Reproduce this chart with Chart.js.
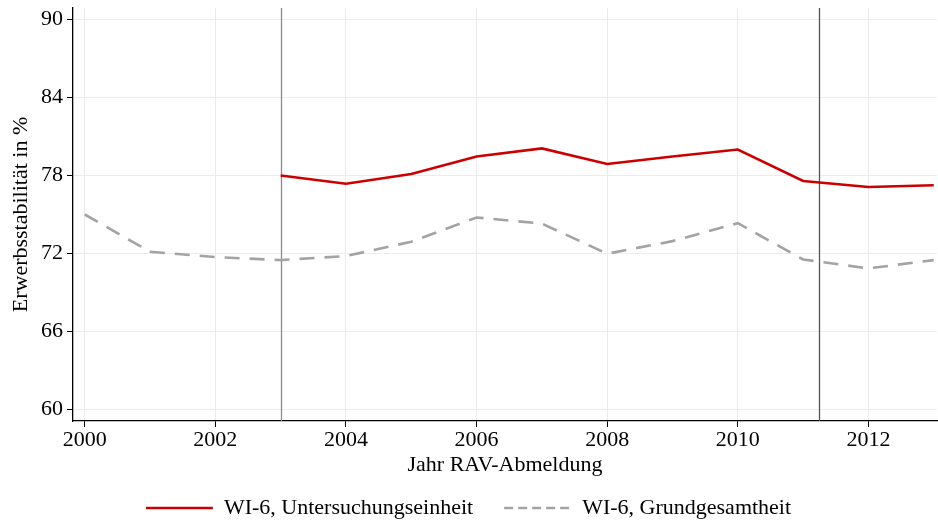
<!DOCTYPE html>
<html>
<head>
<meta charset="utf-8">
<script src="https://cdn.jsdelivr.net/npm/chart.js@4.4.1/dist/chart.umd.min.js"></script>
<style>
html, body { margin: 0; padding: 0; background: #fff; }
#wrap { width: 938px; height: 523px; }
</style>
</head>
<body>
<div id="wrap"><canvas id="myChart"></canvas></div>
<script>
var years = [2000, 2001, 2002, 2003, 2004, 2005, 2006, 2007, 2008, 2009, 2010, 2011, 2012, 2013];
var untersuchung = [null, null, null, 78.0, 77.37, 78.12, 79.47, 80.09, 78.89, 79.47, 80.0, 77.58, 77.12, 77.25];
var grundgesamtheit = [75.0, 72.13, 71.72, 71.49, 71.8, 72.9, 74.77, 74.3, 71.98, 72.95, 74.33, 71.54, 70.85, 71.49];
var xTicks = [2000, 2002, 2004, 2006, 2008, 2010, 2012];
var yTicks = [60, 66, 72, 78, 84, 90];
var refYears = [2003, 2011.25];
var refColors = ['#8c8c8c', '#555555'];

function points(values) {
    var out = [];
    years.forEach(function (yr, i) {
        if (values[i] !== null) out.push({x: yr, y: values[i]});
    });
    return out;
}

Chart.defaults.font.family = "'Liberation Serif', 'Times New Roman', serif";
Chart.defaults.color = '#000';

// vertical marker lines
var refLines = {
    id: 'refLines',
    beforeDatasetsDraw: function (chart) {
        var ctx = chart.ctx, area = chart.chartArea, xs = chart.scales.x;
        ctx.save();
        refYears.forEach(function (v, i) {
            var px = Math.round(xs.getPixelForValue(v)) + 0.5;
            ctx.strokeStyle = refColors[i];
            ctx.lineWidth = 1.3;
            ctx.beginPath();
            ctx.moveTo(px, area.top);
            ctx.lineTo(px, area.bottom);
            ctx.stroke();
        });
        ctx.restore();
    }
};

var canvas = document.getElementById('myChart');
new Chart(canvas, {
    type: 'line',
    data: {
        datasets: [{
            label: 'WI-6, Untersuchungseinheit',
            data: points(untersuchung),
            borderColor: '#cc0000',
            backgroundColor: '#cc0000',
            borderWidth: 2.6,
            pointRadius: 0,
            pointStyle: 'line',
            tension: 0
        }, {
            label: 'WI-6, Grundgesamtheit',
            data: points(grundgesamtheit),
            borderColor: '#a3a3a3',
            backgroundColor: '#a3a3a3',
            borderWidth: 2.6,
            borderDash: [15, 10],
            pointRadius: 0,
            pointStyle: 'line',
            tension: 0
        }]
    },
    options: {
        responsive: true,
        maintainAspectRatio: false,
        animation: false,
        // legend box hangs a little below the canvas so its label row sits low
        layout: { padding: { top: 8, right: 1, left: 0, bottom: -6 } },
        scales: {
            x: {
                type: 'linear',
                min: 1999.82,
                max: 2013.05,
                afterBuildTicks: function (scale) {
                    scale.ticks = xTicks.map(function (v) { return {value: v}; });
                },
                afterFit: function (scale) { scale.height = 45; },
                ticks: {
                    font: { size: 22 },
                    padding: 0,
                    maxRotation: 0,
                    callback: function (v) { return String(v); }
                },
                grid: { color: '#ececec', tickColor: '#000', tickLength: 6, lineWidth: 1 },
                border: { color: '#000', width: 1.3 },
                title: {
                    display: true,
                    text: 'Jahr RAV-Abmeldung',
                    font: { size: 22 },
                    padding: { top: 0, bottom: -12 }
                }
            },
            y: {
                min: 59.1,
                max: 90.9,
                afterBuildTicks: function (scale) {
                    scale.ticks = yTicks.map(function (v) { return {value: v}; });
                },
                afterFit: function (scale) {
                    scale.width = 73;
                    scale.paddingTop = 0;
                    scale.paddingBottom = 0;
                },
                ticks: { font: { size: 22 }, padding: 4 },
                grid: { color: '#ececec', tickColor: '#000', tickLength: 6, lineWidth: 1 },
                border: { color: '#000', width: 1.3 },
                title: {
                    display: true,
                    text: 'Erwerbsstabilität in %',
                    font: { size: 22 },
                    padding: { top: 8, bottom: 0 }
                }
            }
        },
        plugins: {
            legend: {
                position: 'bottom',
                labels: {
                    usePointStyle: true,
                    pointStyleWidth: 67,
                    boxHeight: 22,
                    padding: 31,
                    font: { size: 22 },
                    generateLabels: function (chart) {
                        var items = Chart.defaults.plugins.legend.labels.generateLabels(chart);
                        items.forEach(function (it) {
                            var ds = chart.data.datasets[it.datasetIndex];
                            // legend key uses a finer dash than the plotted line
                            it.lineDash = ds.borderDash ? [9, 5] : [];
                            it.lineWidth = 2.6;
                            it.strokeStyle = ds.borderColor;
                        });
                        return items;
                    }
                }
            },
            tooltip: { enabled: false }
        }
    },
    plugins: [refLines]
});
</script>
</body>
</html>
